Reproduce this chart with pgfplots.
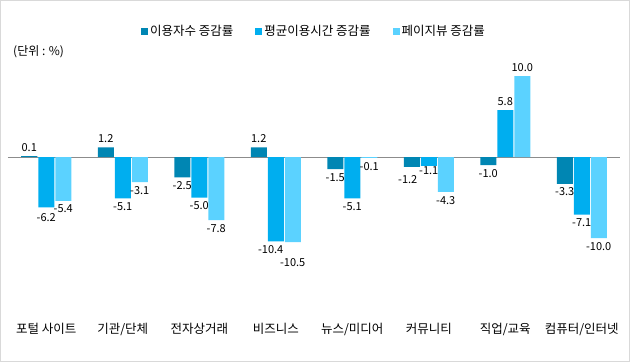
\documentclass[border=0pt]{standalone}
\usepackage{pgfplots}
\usepackage{pgfplotstable}
\pgfplotsset{compat=1.18}
\usepackage{fontspec}
\setmainfont{Noto Sans CJK KR}
\definecolor{c1}{HTML}{0086B3}
\definecolor{c2}{HTML}{00AEEF}
\definecolor{c3}{HTML}{5BD2FF}
\definecolor{bord}{HTML}{D9D9D9}
\pgfplotstableread{
x y dx dy
0 0.1 0 0
1 1.2 0 0
2 -2.5 0 0
3 1.2 0 0
4 -1.5 0 0
5 -1.2 -4 -5
6 -1.0 0 0
7 -3.3 0 0
}\users
\pgfplotstableread{
x y dx dy
0 -6.2 0 -2
1 -5.1 0 0
2 -5.0 0 0
3 -10.4 -5 0
4 -5.1 0 0
5 -1.1 0 3
6 5.8 0 0
7 -7.1 0 0
}\avgtime
\pgfplotstableread{
x y dx dy
0 -5.4 0 0
1 -3.1 0 0
2 -7.8 0 0
3 -10.5 0 -12
4 -0.1 0 0
5 -4.3 0 0
6 10.0 0 0
7 -10.0 0 0
}\pageviews
\begin{document}
\begin{tikzpicture}[x=1pt,y=1pt]
\draw[bord, line width=1pt] (0.5,-0.5) rectangle (629.5,-361.5);
\begin{axis}[
  at={(8pt,-315pt)}, anchor=south west,
  scale only axis, width=612pt, height=250pt,
  xmin=-0.5, xmax=7.5, ymin=-19.5, ymax=11.36,
  ybar=1pt, bar width=16pt,
  axis line style={draw=none},
  ytick=\empty,
  xtick={0,...,7},
  xticklabels={포털 사이트, 기관/단체, 전자상거래, 비즈니스, 뉴스/미디어, 커뮤니티, 직업/교육, 컴퓨터/인터넷},
  xtick style={draw=none},
  x tick label style={font=\fontsize{12.5}{14}\selectfont, yshift=0pt},
  extra y ticks={0}, extra y tick labels={},
  extra y tick style={grid=major, major grid style={color=gray!90, line width=1pt}, tick style={draw=none}},
  visualization depends on={\thisrow{dx} \as \dx},
  visualization depends on={\thisrow{dy} \as \dy},
  nodes near coords={\pgfmathprintnumber[fixed,fixed zerofill,precision=1,assume math mode=true]{\pgfplotspointmeta}},
  every node near coord/.append style={font=\fontsize{11}{13}\selectfont, black, inner xsep=0.5pt, inner ysep=4pt, xshift=\dx pt, yshift=\dy pt},
  legend columns=3,
  legend style={at={(0.5,1)}, anchor=center, yshift=34pt, draw=none, fill=none,
    font=\fontsize{12.5}{14}\selectfont,
    /tikz/every even column/.append style={column sep=20pt}},
  legend image code/.code={\fill[#1] (0pt,-3.5pt) rectangle (7pt,3.5pt);},
]
\addplot[fill=c1, draw=none] table[x=x, y=y] {\users};
\addlegendentry{이용자수 증감률}
\addplot[fill=c2, draw=none] table[x=x, y=y] {\avgtime};
\addlegendentry{평균이용시간 증감률}
\addplot[fill=c3, draw=none] table[x=x, y=y] {\pageviews};
\addlegendentry{페이지뷰 증감률}
\end{axis}
\node[anchor=west, font=\fontsize{12}{14}\selectfont, inner sep=0pt] at (13,-52) {(단위 : \%)};
\end{tikzpicture}
\end{document}
